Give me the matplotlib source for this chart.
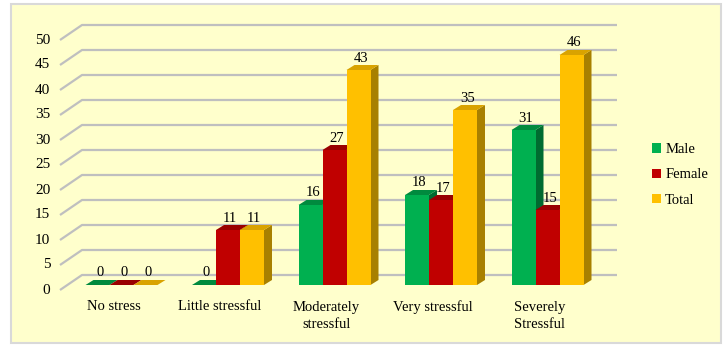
import numpy as np
import matplotlib.pyplot as plt
from matplotlib.patches import Polygon, Rectangle, Patch

categories = ['No stress', 'Little stressful', 'Moderately\nstressful',
              'Very stressful', 'Severely\nStressful']
male = [0, 0, 16, 18, 31]
female = [0, 11, 27, 17, 15]
total = [0, 11, 43, 35, 46]
series_names = ['Male', 'Female', 'Total']
yticks = [0, 5, 10, 15, 20, 25, 30, 35, 40, 45, 50]

front_col = ['#00B050', '#C00000', '#FFC000']
top_col = ['#008A3E', '#990000', '#D9A300']
side_col = ['#006B30', '#7A0000', '#A88000']

plt.rcParams['font.family'] = ['Liberation Serif', 'DejaVu Serif']

fig = plt.figure(figsize=(7.28, 3.47), dpi=100)
fig.patch.set_facecolor('white')
# light yellow panel with grey border
fig.patches.append(Rectangle((11 / 728, 4 / 347), 710 / 728, 339 / 347,
                             transform=fig.transFigure, facecolor='#FFFFCC',
                             edgecolor='#D9D9D9', linewidth=1.5, zorder=-5))

ax = fig.add_axes([0, 0, 1, 1])
ax.set_axis_off()
ax.patch.set_alpha(0)
# 1 category = 106.5 px, 1 unit = 5 px
ax.set_xlim(-121.5 / 106.5, (728 - 121.5) / 106.5)
ax.set_ylim(-62 / 5, 285 / 5)

bw = 24 / 106.5      # bar width
ddx = 8 / 106.5      # bar depth offset
ddy = 1.0
# wall geometry
front_x = -61.5 / 106.5
back_x = -39.5 / 106.5
right_x = 495.5 / 106.5

for v in yticks:
    ax.plot([front_x, back_x, right_x], [v - 1, v + 2, v + 2],
            color='#BFBFBF', lw=1.6, zorder=1, solid_capstyle='butt')
    ax.text(front_x - 0.09, v - 1, str(v), ha='right', va='center', fontsize=11)

x = np.arange(len(categories))
data = [male, female, total]
for s in range(3):
    xs = x + (s - 1) * bw
    vals = data[s]
    ax.bar(xs, vals, width=bw, color=front_col[s], zorder=3 + s * 0.1,
           edgecolor='none')
    for xc, v in zip(xs, vals):
        l, r = xc - bw / 2, xc + bw / 2
        ax.add_patch(Polygon([(l, v), (r, v), (r + ddx, v + ddy), (l + ddx, v + ddy)],
                             closed=True, facecolor=top_col[s], edgecolor='none',
                             zorder=3 + s * 0.1))
        ax.add_patch(Polygon([(r, 0), (r + ddx, ddy), (r + ddx, v + ddy), (r, v)],
                             closed=True, facecolor=side_col[s], edgecolor='none',
                             zorder=3 + s * 0.1 - 0.05))
        ax.text(xc + 0.02, v + 2.4, str(v), ha='center', va='center', fontsize=10.5)

for i, c in enumerate(categories):
    ax.text(i - 0.075, -3.1, c, ha='center', va='top', fontsize=10.5,
            linespacing=1.42)

handles = [Patch(facecolor=front_col[s], edgecolor='none') for s in range(3)]
fig.legend(handles, series_names, loc='center left',
           bbox_to_anchor=(652 / 728, 1 - 175 / 347), frameon=False,
           borderpad=0, handlelength=0.6, handleheight=0.6, handletextpad=0.3,
           labelspacing=0.85, fontsize=10.5, borderaxespad=0)

fig.savefig('out.png', dpi=100)
